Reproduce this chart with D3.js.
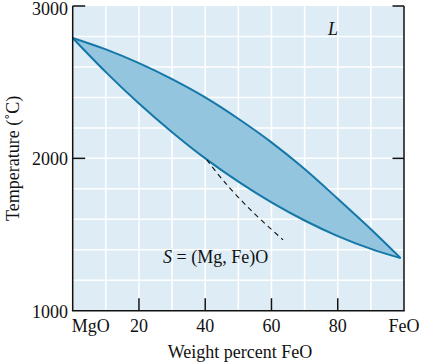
<!DOCTYPE html>
<html>
<head>
<meta charset="utf-8">
<script src="https://cdn.jsdelivr.net/npm/d3@7"></script>
<style>
  body { margin: 0; background: #fff; }
  text { font-family: "Liberation Serif", "Times New Roman", serif; fill: #111; }
</style>
</head>
<body>
<div id="chart"></div>
<script>
// data (wt% FeO, temperature in C)
var liquidusX = [0, 10, 20, 30, 40, 50, 60, 70, 80, 90, 99];
var liquidusT = [2790, 2715, 2625, 2520, 2400, 2260, 2105, 1930, 1735, 1535, 1345];
var solidusX = [0, 10, 20, 30, 40, 50, 60, 70, 80, 90, 99];
var solidusT = [2790, 2566, 2360, 2172, 2000, 1847, 1711, 1592, 1490, 1406, 1345];
var dashX = [40.5, 46, 54, 63.5];
var dashT = [1990, 1840, 1655, 1465];

var xTickVals = [0, 20, 40, 60, 80, 100];
var xTickLabels = ["MgO", "20", "40", "60", "80", "FeO"];
var yTickVals = [1000, 2000, 3000];

var w = 421, h = 362;
var svg = d3.select("#chart").append("svg").attr("width", w).attr("height", h);

// scales
var xScale = d3.scaleLinear().domain([0, 100]).range([72.7, 404]);
var yScale = d3.scaleLinear().domain([1000, 3000]).range([310.7, 6]);

// background
svg.append("rect").attr("x", xScale(0)).attr("y", yScale(3000))
  .attr("width", xScale(100) - xScale(0)).attr("height", yScale(1000) - yScale(3000))
  .attr("fill", "#deedf5");

// grid
svg.append("g").selectAll("line").data(d3.range(10, 100, 10)).enter().append("line")
  .attr("x1", function(d) { return xScale(d); }).attr("x2", function(d) { return xScale(d); })
  .attr("y1", yScale(3000)).attr("y2", yScale(1000))
  .attr("stroke", "#fff").attr("stroke-width", 1.5);
svg.append("g").selectAll("line").data(d3.range(1200, 3000, 200)).enter().append("line")
  .attr("y1", function(d) { return yScale(d); }).attr("y2", function(d) { return yScale(d); })
  .attr("x1", xScale(0)).attr("x2", xScale(100))
  .attr("stroke", "#fff").attr("stroke-width", 1.5);

// curves
var line = d3.line().curve(d3.curveCatmullRom)
  .x(function(d) { return xScale(d[0]); }).y(function(d) { return yScale(d[1]); });
var upper = d3.zip(liquidusX, liquidusT);
var lower = d3.zip(solidusX, solidusT);
var fillPath = line(upper) + line(lower.slice().reverse()).replace(/^M/, "L") + "Z";

svg.append("path").attr("d", fillPath).attr("fill", "#93c6de").attr("stroke", "none");
svg.append("path").attr("d", line(upper)).attr("fill", "none").attr("stroke", "#1577a8").attr("stroke-width", 2);
svg.append("path").attr("d", line(lower)).attr("fill", "none").attr("stroke", "#1577a8").attr("stroke-width", 2);

svg.append("path").attr("d", line(d3.zip(dashX, dashT))).attr("fill", "none")
  .attr("stroke", "#111").attr("stroke-width", 1.1).attr("stroke-dasharray", "5,4");

// axes
var axisColor = "#111";
svg.append("line").attr("x1", xScale(0)).attr("x2", xScale(0)).attr("y1", yScale(3000)).attr("y2", yScale(1000))
  .attr("stroke", axisColor).attr("stroke-width", 1.5);
svg.append("line").attr("x1", xScale(100)).attr("x2", xScale(100)).attr("y1", yScale(3000)).attr("y2", yScale(1000))
  .attr("stroke", axisColor).attr("stroke-width", 1.5);
svg.append("line").attr("x1", xScale(0) - 0.75).attr("x2", xScale(100) + 0.75).attr("y1", yScale(1000)).attr("y2", yScale(1000))
  .attr("stroke", axisColor).attr("stroke-width", 1.5);

// ticks
svg.append("g").selectAll("line").data([20, 40, 60, 80]).enter().append("line")
  .attr("x1", function(d) { return xScale(d); }).attr("x2", function(d) { return xScale(d); })
  .attr("y1", yScale(1000)).attr("y2", yScale(1000) - 12.5)
  .attr("stroke", axisColor).attr("stroke-width", 1.5);
svg.append("g").selectAll("line").data([2000, 3000]).enter().append("line")
  .attr("x1", xScale(0)).attr("x2", xScale(0) + 12.5)
  .attr("y1", function(d) { return yScale(d); }).attr("y2", function(d) { return yScale(d); })
  .attr("stroke", axisColor).attr("stroke-width", 1.5);
svg.append("g").selectAll("line").data([2000, 3000]).enter().append("line")
  .attr("x1", xScale(100)).attr("x2", xScale(100) - 11.5)
  .attr("y1", function(d) { return yScale(d); }).attr("y2", function(d) { return yScale(d); })
  .attr("stroke", axisColor).attr("stroke-width", 1.5);

// tick labels (top one nudged down so it stays inside the picture)
svg.append("g").selectAll("text").data(yTickVals).enter().append("text")
  .attr("x", 68).attr("y", function(d) { return Math.max(yScale(d) + 6.8, 14.5); })
  .attr("text-anchor", "end").style("font-size", "18px").text(function(d) { return d; });
svg.append("g").selectAll("text").data(xTickVals).enter().append("text")
  .attr("x", function(d, i) { return i === 0 ? xScale(d) + 18 : xScale(d); })
  .attr("y", 332).attr("text-anchor", "middle").style("font-size", "18px")
  .text(function(d, i) { return xTickLabels[i]; });

// axis titles
svg.append("text").attr("x", 240).attr("y", 358).attr("text-anchor", "middle")
  .style("font-size", "18px").text("Weight percent FeO");
svg.append("text").attr("transform", "translate(19," + yScale(2000) + ") rotate(-90)")
  .attr("text-anchor", "middle").style("font-size", "18px").text("Temperature (˚C)");

// phase labels
svg.append("text").attr("x", 328).attr("y", 35).style("font-size", "18px")
  .style("font-style", "italic").text("L");
var s = svg.append("text").attr("x", 163).attr("y", 263).style("font-size", "18px");
s.append("tspan").style("font-style", "italic").text("S");
s.append("tspan").text(" = (Mg, Fe)O");
</script>
</body>
</html>
